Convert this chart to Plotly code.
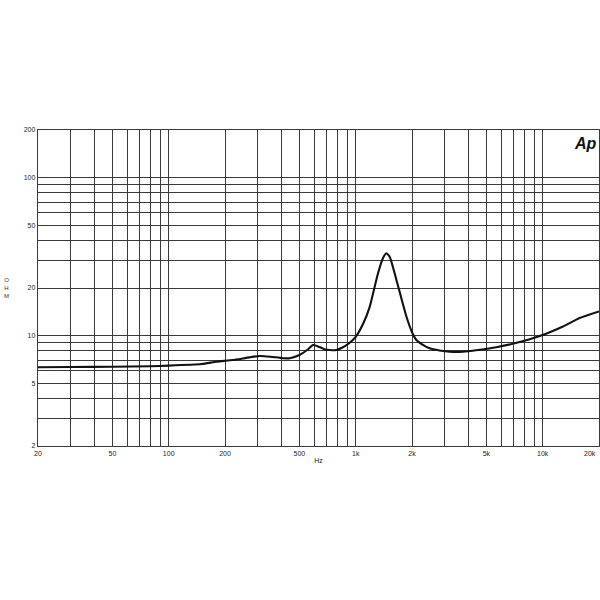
import plotly.graph_objects as go

freq_hz = [20, 30, 50, 80, 100, 150, 180, 220, 270, 307, 350, 407, 444, 500, 550, 591, 620,
           680, 726, 788, 850, 929, 1000, 1100, 1188, 1316, 1400, 1459, 1520, 1651, 1760,
           1867, 2000, 2111, 2300, 2487, 2800, 3180, 3750, 4500, 5652, 7000, 8522, 10500,
           12838, 15770, 20000]
impedance_ohm = [6.3, 6.32, 6.35, 6.4, 6.45, 6.6, 6.83, 7.0, 7.28, 7.43, 7.35, 7.19, 7.19,
                 7.53, 8.1, 8.72, 8.6, 8.2, 8.1, 8.1, 8.4, 9.0, 9.8, 12.0, 15.2, 24.8, 31.0,
                 33.2, 31.5, 22.5, 17.0, 13.2, 10.5, 9.38, 8.7, 8.3, 8.05, 7.9, 7.9, 8.1,
                 8.43, 8.9, 9.47, 10.3, 11.4, 12.9, 14.2]

x_grid = [20, 30, 40, 50, 60, 70, 80, 90, 100, 200, 300, 400, 500, 600, 700, 800, 900,
          1000, 2000, 3000, 4000, 5000, 6000, 7000, 8000, 9000, 10000, 20000]
x_labels = {20: "20", 50: "50", 100: "100", 200: "200", 500: "500", 1000: "1k",
            2000: "2k", 5000: "5k", 10000: "10k"}
x_edge_label = (20000, "20k")
y_grid = [2, 3, 4, 5, 6, 7, 8, 9, 10, 20, 30, 40, 50, 60, 70, 80, 90, 100, 200]
y_labels = {2: "2", 5: "5", 10: "10", 20: "20", 50: "50", 100: "100", 200: "200"}

fig = go.Figure()
fig.add_trace(go.Scatter(x=freq_hz, y=impedance_ohm, mode="lines",
                         line=dict(color="#111111", width=2.1, shape="spline", smoothing=0.5),
                         showlegend=False, hoverinfo="skip"))

grid_color = "#3a3a3a"
lab_font = dict(size=7, color="#222222", family="Arial")
fig.update_xaxes(type="log", range=[1.30102, 4.30104], automargin=False,
                 tickvals=x_grid, ticktext=[x_labels.get(v, "") for v in x_grid],
                 showgrid=True, gridcolor=grid_color, gridwidth=1.4,
                 showline=True, linecolor=grid_color, linewidth=1.4, mirror=True,
                 ticks="", tickfont=lab_font,
                 title=dict(text="Hz", font=lab_font, standoff=2),
                 zeroline=False)
fig.update_yaxes(type="log", range=[0.30102, 2.30104], automargin=False,
                 tickvals=y_grid, ticktext=[y_labels.get(v, "") for v in y_grid],
                 showgrid=True, gridcolor=grid_color, gridwidth=1.4,
                 showline=True, linecolor=grid_color, linewidth=1.4, mirror=True,
                 ticks="", tickfont=lab_font, zeroline=False)

fig.add_annotation(text=x_edge_label[1], x=4.30103, xref="x", yref="paper", y=0,
                   showarrow=False, xanchor="right", yanchor="top", yshift=-2, xshift=-1,
                   font=lab_font)
fig.add_annotation(text="O<br>H<br>M", xref="paper", yref="paper", x=-0.057, y=0.5,
                   showarrow=False, xanchor="center", yanchor="middle",
                   font=dict(size=6, color="#333333", family="Arial"))
fig.add_annotation(text="<b><i>Ap</i></b>", xref="paper", yref="paper", x=1.0, y=0.99,
                   showarrow=False, xanchor="right", yanchor="top",
                   font=dict(size=16, color="#111111", family="Arial"))

fig.update_layout(width=600, height=600, paper_bgcolor="white", plot_bgcolor="white",
                  margin=dict(l=38, r=1, t=130, b=154, autoexpand=False))
fig.write_html("out.html", config={"displayModeBar": False},
               post_script="document.body.style.margin='0';document.body.style.overflow='hidden';")
